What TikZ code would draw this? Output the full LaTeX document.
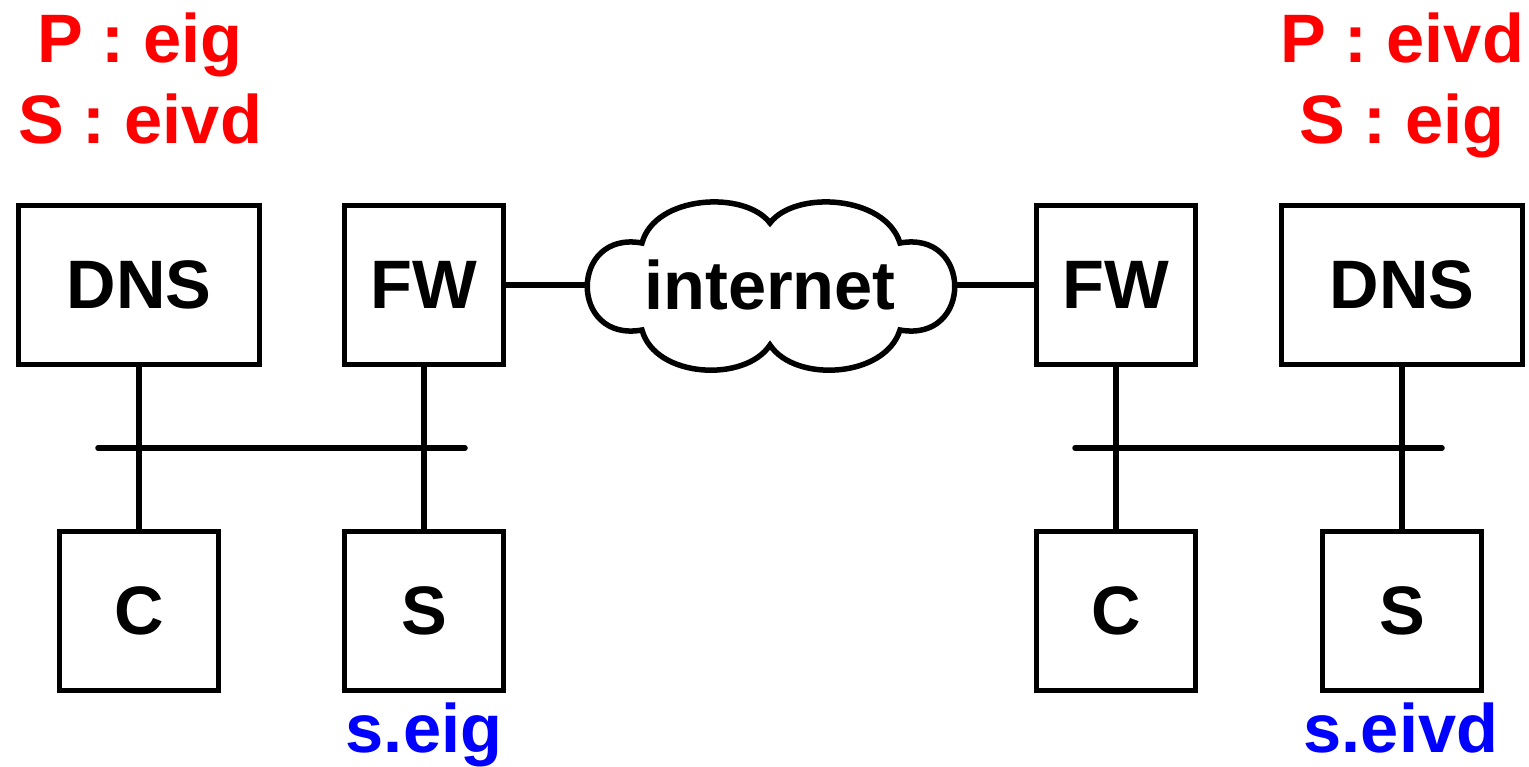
\documentclass[tikz,border=0pt]{standalone}
\usepackage{fontspec}
\setmainfont{Liberation Sans}
\begin{document}
\begin{tikzpicture}[x=0.01cm,y=-0.01cm,line width=0.055cm,
  lbl/.style={font=\fontsize{19.5}{23}\selectfont\bfseries},
  box/.style={draw,lbl,inner sep=0pt},
  wide/.style={box,minimum width=2.41cm,minimum height=1.59cm},
  sq/.style={box,minimum width=1.59cm,minimum height=1.59cm},
  bus/.style={line cap=round},
  red/.style={lbl,text=red,anchor=base,inner sep=0pt},
  blu/.style={lbl,text=blue,anchor=base,inner sep=0pt}]
\useasboundingbox (0,0) rectangle (1529,766);
% boxes
\node[wide] (dnsL) at (139,285) {DNS};
\node[sq] (fwL) at (424,285) {FW};
\node[sq] (fwR) at (1116,285) {FW};
\node[wide] (dnsR) at (1402,285) {DNS};
\node[sq] (cL) at (139,611) {C};
\node[sq] (sL) at (424,611) {S};
\node[sq] (cR) at (1116,611) {C};
\node[sq] (sR) at (1402,611) {S};
% cloud
\draw (642,243) .. controls (655,195) and (745,190) .. (770,223)
  .. controls (795,190) and (885,195) .. (900,243)
  .. controls (973,230) and (973,343) .. (900,330)
  .. controls (885,378) and (795,383) .. (770,345)
  .. controls (745,383) and (655,378) .. (642,330)
  .. controls (569,343) and (569,230) .. cycle;
\node[lbl,inner sep=0pt] (inet) at (770,285) {internet};
\coordinate (inetW) at (587,285);
\coordinate (inetE) at (954,285);
% buses
\coordinate (busLa) at (98,448);
\coordinate (busLb) at (465,448);
\coordinate (busRa) at (1075,448);
\coordinate (busRb) at (1442,448);
\draw[bus] (busLa) -- (busLb);
\draw[bus] (busRa) -- (busRb);
% connectors
\draw (fwL.east) -- (inetW);
\draw (inetE) -- (fwR.west);
\draw (dnsL.south) -- (cL.north);
\draw (fwL.south) -- (sL.north);
\draw (fwR.south) -- (cR.north);
\draw (dnsR.south) -- (sR.north);
% labels
\node[red] (pL) at (140,62) {P : eig};
\node[red] (sLbl) at (140,143) {S : eivd};
\node[red] (pR) at (1402,62) {P : eivd};
\node[red] (sRbl) at (1402,143) {S : eig};
\node[blu] (nL) at (424,752) {s.eig};
\node[blu] (nR) at (1401,752) {s.eivd};
\end{tikzpicture}
\end{document}
